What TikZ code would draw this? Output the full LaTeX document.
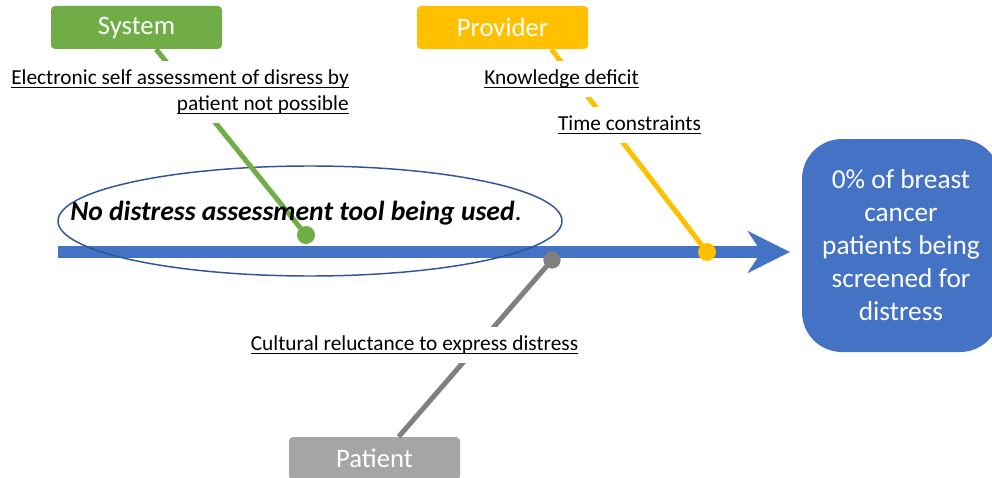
\documentclass[tikz,border=0pt]{standalone}
\usepackage{fontspec}
\setmainfont{Carlito}
\usetikzlibrary{arrows.meta}
\definecolor{sysgreen}{HTML}{70AD47}
\definecolor{provorange}{HTML}{FFC000}
\definecolor{patgray}{HTML}{A5A5A5}
\definecolor{bonegray}{HTML}{808080}
\definecolor{spineblue}{HTML}{4472C4}
\definecolor{ringblue}{HTML}{2F5597}
\newcommand{\undertext}[1]{\leavevmode\setbox0\hbox{#1}\rlap{\rule[-2.75pt]{\wd0}{0.9pt}}\box0}

\begin{document}
\begin{tikzpicture}[x=0.75pt,y=-0.75pt,
    catbox/.style={fill=#1,rounded corners=3pt,minimum width=128.25pt,minimum height=32.25pt,
      inner sep=0pt,text=white,font=\fontsize{20}{24}\selectfont},
    cause/.style={fill=white,inner xsep=2pt,inner ysep=6.5pt,font=\fontsize{16}{19.5}\selectfont},
    bone/.style={line width=3.75pt,draw=#1}]
      \useasboundingbox (0,0) rectangle (992,478);
      \clip (0,0) rectangle (992,478);
      \coordinate (tail) at (58,252);
      \coordinate (head) at (790,252);
      \coordinate (gdot) at (306,235);
      \coordinate (odot) at (707,252);
      \coordinate (kdot) at (552,260);
      \node [catbox=sysgreen] (system) at (136.5,27.5) {System};
      \node [catbox=provorange] (provider) at (502.5,27.5) {Provider};
      \node [catbox=patgray] (patient) at (374.5,458.5) {Patient};
      \node [fill=spineblue,rounded corners=30pt,minimum width=148.5pt,minimum height=159.75pt,
        align=center,text=white,font=\fontsize{20.5}{24.75}\selectfont] (effect) at (901,245.5)
        {0\% of breast\\cancer\\patients being\\screened for\\distress};
      \draw [line width=9pt,spineblue,-{Stealth[length=31.5pt,width=31pt,inset=10pt]}] (tail) -- (head);
      \draw [ringblue,line width=1.1pt] (310,221) ellipse [x radius=252,y radius=55];
      \draw [bone=sysgreen] (gdot) -- (system.-48);
      \draw [bone=provorange] (odot) -- (provider.-24);
      \draw [bone=bonegray] (kdot) -- (patient.42);
      \fill [sysgreen] (gdot) circle (6.75pt);
      \fill [provorange] (odot) circle (6.75pt);
      \fill [bonegray] (kdot) circle (6.5pt);
      \node [cause,align=right] (elec) at (180,92)
        {\undertext{Electronic self assessment of disress by}\\\undertext{patient not possible}};
      \node [cause] (know) at (561.5,79) {\undertext{Knowledge deficit}};
      \node [cause] (time) at (629.5,125) {\undertext{Time constraints}};
      \node [cause] (cult) at (414.5,345) {\undertext{Cultural reluctance to express distress}};
      \node [anchor=base west,inner sep=0pt,font=\fontsize{20.7}{24}\selectfont] (focus) at (70,220)
        {\textbf{\textit{No distress assessment tool being used}}.};
    \end{tikzpicture}
\end{document}
